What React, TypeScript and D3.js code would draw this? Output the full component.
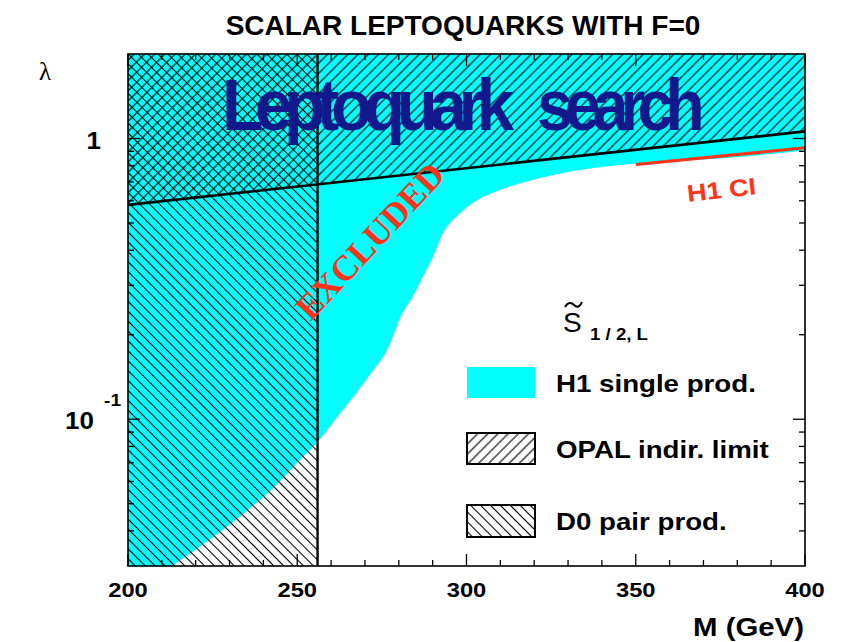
import React, { useLayoutEffect, useRef, useState } from 'react';
import * as d3 from 'd3';

// Canvas and plot frame
const W = 843;
const H = 642;
const FRAME = { left: 128, right: 805, top: 54, bottom: 566 };

// Axis ranges and labels
const massDomain: [number, number] = [200, 400];
const lambdaDomain: [number, number] = [0.03, 2];
const massTickLabels = [200, 250, 300, 350, 400];

// H1 single-production exclusion contour (M in GeV, lambda)
const h1Mass = [213, 221, 234, 243, 251, 256, 261, 267, 272, 276.5, 281, 284, 287, 290, 293, 298, 303, 308, 325, 350, 375, 400];
const h1Lambda = [0.03, 0.035, 0.046, 0.057, 0.072, 0.083, 0.099, 0.122, 0.147, 0.176, 0.238, 0.272, 0.32, 0.377, 0.459, 0.541, 0.602, 0.642, 0.739, 0.815, 0.849, 0.906];

// OPAL indirect limit (straight in lambda-log vs M)
const opalMass = [200, 400];
const opalLambda = [0.58, 1.06];

// D0 pair-production mass limit
const d0MassLimit = 256;

// H1 contact-interaction limit segment
const ciMass = [350, 400];
const ciLambda = [0.808, 0.927];

const legendLabels = ['H1 single prod.', 'OPAL indir. limit', 'D0 pair prod.'];

const SANS = "'Liberation Sans', Arial, Helvetica, sans-serif";
const SERIF = "'Liberation Serif', 'Times New Roman', serif";
const CYAN = '#00ffff';
const RED = '#ff3319';
const STRETCH = 1.13;

function SText(props: {
  x: number; y: number; size: number; anchor?: string; stretch?: number;
  weight?: string; fill?: string; rotate?: number; family?: string; children: React.ReactNode;
}) {
  const { x, y, size, anchor = 'start', stretch = STRETCH, weight = 'bold', fill = '#000', rotate = 0, family = SANS, children } = props;
  return (
    <text
      transform={`translate(${x},${y}) rotate(${rotate}) scale(${stretch},1)`}
      fontSize={size}
      textAnchor={anchor}
      fontWeight={weight}
      fontFamily={family}
      fill={fill}
    >
      {children}
    </text>
  );
}

// Text squeezed horizontally to span a given width
function FitText(props: { x: number; y: number; width: number; size: number; fill: string; spacing: number; family: string; children: string }) {
  const ref = useRef<SVGTextElement>(null);
  const [sx, setSx] = useState(1);
  useLayoutEffect(() => {
    if (ref.current) {
      const w = ref.current.getBBox().width;
      if (w > 0) setSx(props.width / w);
    }
  }, [props.width, props.children]);
  return (
    <text
      ref={ref}
      transform={`translate(${props.x},${props.y}) scale(${sx},1)`}
      fontSize={props.size}
      fontWeight="bold"
      fontFamily={props.family}
      letterSpacing={props.spacing}
      fill={props.fill}
    >
      {props.children}
    </text>
  );
}

export default function App() {
  const x = d3.scaleLinear().domain(massDomain).range([FRAME.left, FRAME.right]);
  const y = d3.scaleLog().domain(lambdaDomain).range([FRAME.bottom, FRAME.top]);

  const h1Pts: [number, number][] = h1Mass.map((m, i) => [m, h1Lambda[i]]);
  const curve = d3
    .line<[number, number]>()
    .x((d) => x(d[0]))
    .y((d) => y(d[1]))
    .curve(d3.curveMonotoneX)(h1Pts) as string;
  const cyanPath =
    `M${x(massDomain[0])},${y(lambdaDomain[0])}L` +
    curve.slice(1) +
    `L${x(massDomain[1])},${y(lambdaDomain[1])}L${x(massDomain[0])},${y(lambdaDomain[1])}Z`;

  const opalLine = d3
    .line<number>()
    .x((_, i) => x(opalMass[i]))
    .y((d) => y(d))(opalLambda) as string;
  const opalArea =
    opalLine +
    `L${x(massDomain[1])},${y(lambdaDomain[1])}L${x(massDomain[0])},${y(lambdaDomain[1])}Z`;

  const ciLine = d3
    .line<number>()
    .x((_, i) => x(ciMass[i]))
    .y((d) => y(d))(ciLambda) as string;

  // ticks
  const massTicks = d3.range(200, 401, 10);
  const lambdaTicks: { v: number; major: boolean }[] = [];
  [0.01, 0.1, 1].forEach((dec) => {
    for (let k = 1; k <= 9; k++) {
      const v = +(k * dec).toPrecision(3);
      if (v > lambdaDomain[0] && v < lambdaDomain[1]) lambdaTicks.push({ v, major: k === 1 });
    }
  });

  const MAJ = 12;
  const MIN = 6;

  const legendX = 467;
  const legendBoxW = 68;
  const legendRows = [
    { y: 367, h: 31, fill: CYAN, stroke: 'none', textY: 392 },
    { y: 433, h: 31, fill: 'url(#hatchFwd)', stroke: '#000', textY: 458 },
    { y: 505, h: 32, fill: 'url(#hatchBack)', stroke: '#000', textY: 530 },
  ];

  return (
    <svg width={W} height={H} style={{ position: 'absolute', left: 0, top: 0, background: '#fff' }}>
      <defs>
        <pattern id="hatchFwd" width={7.2} height={20} patternUnits="userSpaceOnUse" patternTransform="rotate(45)">
          <line x1={3.6} y1={0} x2={3.6} y2={20} stroke="#000" strokeWidth={1.1} />
        </pattern>
        <pattern id="hatchBack" width={7.0} height={20} patternUnits="userSpaceOnUse" patternTransform="rotate(-45)">
          <line x1={3.5} y1={0} x2={3.5} y2={20} stroke="#000" strokeWidth={1.1} />
        </pattern>
        <clipPath id="plotClip">
          <rect x={FRAME.left} y={FRAME.top} width={FRAME.right - FRAME.left} height={FRAME.bottom - FRAME.top} />
        </clipPath>
      </defs>

      <rect x={0} y={0} width={W} height={H} fill="#fff" />

      {/* Title */}
      <text x={463} y={35} fontSize={28} fontWeight="bold" fontFamily={SANS} textAnchor="middle">
        SCALAR LEPTOQUARKS WITH F=0
      </text>

      <g clipPath="url(#plotClip)">
        {/* H1 excluded region */}
        <path d={cyanPath} fill={CYAN} />
        {/* OPAL excluded region */}
        <path d={opalArea} fill="url(#hatchFwd)" />
        {/* D0 excluded region */}
        <rect
          x={x(massDomain[0])}
          y={FRAME.top}
          width={x(d0MassLimit) - x(massDomain[0])}
          height={FRAME.bottom - FRAME.top}
          fill="url(#hatchBack)"
        />
        <path d={opalLine} fill="none" stroke="#000" strokeWidth={2.6} />
        <line x1={x(d0MassLimit)} x2={x(d0MassLimit)} y1={FRAME.top} y2={FRAME.bottom} stroke="#000" strokeWidth={2.4} />
        {/* H1 CI limit */}
        <path d={ciLine} fill="none" stroke={RED} strokeWidth={3.2} />
      </g>

      {/* Frame and ticks */}
      <rect
        x={FRAME.left}
        y={FRAME.top}
        width={FRAME.right - FRAME.left}
        height={FRAME.bottom - FRAME.top}
        fill="none"
        stroke="#000"
        strokeWidth={1.6}
      />
      <g stroke="#000" strokeWidth={1.3}>
        {massTicks.map((m) => {
          const len = m % 50 === 0 ? MAJ : MIN;
          return (
            <g key={m}>
              <line x1={x(m)} x2={x(m)} y1={FRAME.bottom} y2={FRAME.bottom - len} />
              <line x1={x(m)} x2={x(m)} y1={FRAME.top} y2={FRAME.top + len} />
            </g>
          );
        })}
        {lambdaTicks.map((t) => {
          const len = t.major ? MAJ : MIN;
          return (
            <g key={t.v}>
              <line x1={FRAME.left} x2={FRAME.left + len} y1={y(t.v)} y2={y(t.v)} />
              <line x1={FRAME.right} x2={FRAME.right - len} y1={y(t.v)} y2={y(t.v)} />
            </g>
          );
        })}
      </g>

      {/* Axis labels */}
      {massTickLabels.map((m) => (
        <SText key={m} x={x(m)} y={597} size={21} anchor="middle">
          {m}
        </SText>
      ))}
      <SText x={804} y={636} size={26} anchor="end">
        M (GeV)
      </SText>
      <SText x={101} y={y(1) + 10} size={23} anchor="end">
        1
      </SText>
      <SText x={94} y={y(0.1) + 10} size={23} anchor="end">
        10
      </SText>
      <SText x={104} y={y(0.1) - 13} size={17} anchor="start">
        -1
      </SText>
      <text x={45} y={80} fontSize={25} fontFamily={SERIF} textAnchor="middle">
        λ
      </text>

      {/* Annotations */}
      <FitText x={222} y={130} width={293} size={72} spacing={-9} family={SANS} fill="#13188c">
        Leptoquark
      </FitText>
      <FitText x={537} y={130} width={164} size={72} spacing={-9} family={SANS} fill="#13188c">
        search
      </FitText>
      <g transform="translate(370,241) rotate(-47)">
        <text x={0} y={12} fontSize={35.5} fontWeight="bold" fontFamily={SERIF} textAnchor="middle" fill={RED}>
          EXCLUDED
        </text>
      </g>
      <SText x={688} y={202} size={24} rotate={-6.5} fill={RED}>
        H1 CI
      </SText>

      {/* Legend */}
      <SText x={563} y={332} size={28} weight="normal" stretch={1}>
        S
      </SText>
      <path d="M565,307 C568,302 571,302 574,305 C577,308 580,307 582,302" fill="none" stroke="#000" strokeWidth={2} />
      <SText x={590} y={340} size={16.5}>
        1 / 2, L
      </SText>
      {legendRows.map((r, i) => (
        <g key={i}>
          <rect
            x={legendX}
            y={r.y}
            width={legendBoxW}
            height={r.h}
            fill={r.stroke === 'none' ? r.fill : '#fff'}
          />
          {r.stroke !== 'none' && (
            <rect x={legendX} y={r.y} width={legendBoxW} height={r.h} fill={r.fill} stroke={r.stroke} strokeWidth={2} />
          )}
          <SText x={556} y={r.textY} size={24.5}>
            {legendLabels[i]}
          </SText>
        </g>
      ))}
    </svg>
  );
}
